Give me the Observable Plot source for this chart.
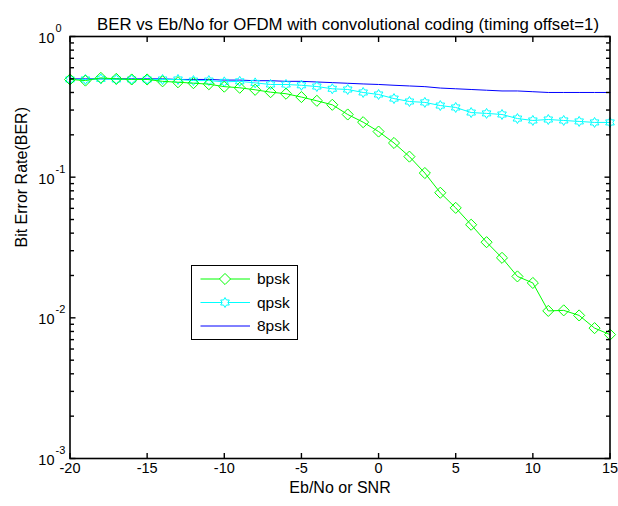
<!DOCTYPE html>
<html>
<head>
<meta charset="utf-8">
<script src="https://cdn.jsdelivr.net/npm/d3@7"></script>
<script src="https://cdn.jsdelivr.net/npm/@observablehq/plot@0.6"></script>
<style>
  html, body { margin: 0; padding: 0; background: #fff; }
  #wrap { position: relative; width: 618px; height: 506px; font-family: "Liberation Sans", Arial, sans-serif; }
  #legend { position: absolute; left: 191px; top: 265px; }
</style>
</head>
<body>
<div id="wrap"></div>
<script>
const titleText = "BER vs Eb/No for OFDM with convolutional coding (timing offset=1)";
const xLabel = "Eb/No or SNR";
const yLabel = "Bit Error Rate(BER)";

const snr = [-20,-19,-18,-17,-16,-15,-14,-13,-12,-11,-10,-9,-8,-7,-6,-5,-4,-3,-2,-1,0,1,2,3,4,5,6,7,8,9,10,11,12,13,14,15];
const bpsk = [0.495,0.486,0.508,0.50,0.495,0.495,0.48,0.473,0.466,0.458,0.44,0.432,0.418,0.402,0.392,0.371,0.349,0.327,0.279,0.246,0.211,0.175,0.140,0.107,0.0775,0.0605,0.0459,0.0345,0.0267,0.0197,0.0177,0.0112,0.0113,0.0104,0.00845,0.0076];
const qpsk = [0.495,0.495,0.50,0.495,0.495,0.495,0.495,0.495,0.486,0.486,0.476,0.48,0.468,0.456,0.456,0.45,0.441,0.425,0.42,0.40,0.387,0.362,0.345,0.340,0.323,0.313,0.288,0.284,0.279,0.261,0.253,0.257,0.253,0.249,0.245,0.245];
const psk8 = [0.50,0.50,0.50,0.50,0.50,0.50,0.50,0.495,0.495,0.495,0.49,0.49,0.485,0.485,0.48,0.48,0.475,0.47,0.465,0.46,0.456,0.45,0.445,0.44,0.43,0.425,0.42,0.415,0.41,0.41,0.405,0.40,0.40,0.40,0.40,0.40];

const seriesNames = ["bpsk", "qpsk", "8psk"];
const seriesColors = ["#00ff00", "#00ffff", "#0000ff"];

const xDomain = [-20, 15];
const yDomain = [0.001, 1];
const xTicks = [-20,-15,-10,-5,0,5,10,15];
const xTickLabels = ["-20","-15","-10","-5","0","5","10","15"];
const yMajor = [0.001, 0.01, 0.1, 1];
const yExponents = ["-3","-2","-1","0"];
const yMinor = yMajor.slice(0, 3).flatMap(d => [2,3,4,5,6,7,8,9].map(m => m * d));

const rows = snr.map((x, i) => ({x, bpsk: bpsk[i], qpsk: qpsk[i], psk8: psk8[i]}));

const hexagram = {
  draw(ctx, size) {
    const R = Math.sqrt(size / Math.PI);
    const r = R / Math.sqrt(3);
    for (let i = 0; i < 12; i++) {
      const a = i * Math.PI / 6 - Math.PI / 2;
      const rr = i % 2 ? r : R;
      const px = rr * Math.cos(a), py = rr * Math.sin(a);
      if (i) ctx.lineTo(px, py); else ctx.moveTo(px, py);
    }
    ctx.closePath();
  }
};

const W = 618, H = 506, ML = 69.5, MR = 8.5, MT = 36, MB = 48;
const FW = W - ML - MR, FH = H - MT - MB;
const MAJ = 5.5, MIN = 4;
const TICK_FS = 14.5, LABEL_FS = 16, TITLE_FS = 16.8, LEG_FS = 15.5;
const FONT = "'Liberation Sans', Arial, sans-serif";

// tick lengths expressed in data units of each scale
const xPerPx = (xDomain[1] - xDomain[0]) / FW;
const decPerPx = Math.log10(yDomain[1] / yDomain[0]) / FH;
const xIn = px => px * xPerPx;
const yUp = (v, px) => v * Math.pow(10, px * decPerPx);
const tk = {stroke: "#000", strokeWidth: 1.4};

const chart = Plot.plot({
  width: W,
  height: H,
  marginLeft: ML,
  marginRight: MR,
  marginTop: MT,
  marginBottom: MB,
  style: {fontFamily: FONT, fontSize: TICK_FS + "px", background: "#fff"},
  x: {domain: xDomain, axis: null},
  y: {type: "log", domain: yDomain, axis: null},
  marks: [
    Plot.line(rows, {x: "x", y: "psk8", stroke: seriesColors[2], strokeWidth: 1}),
    Plot.line(rows, {x: "x", y: "qpsk", stroke: seriesColors[1], strokeWidth: 1}),
    Plot.dot(rows, {x: "x", y: "qpsk", stroke: seriesColors[1], symbol: hexagram, r: 5, strokeWidth: 1}),
    Plot.line(rows, {x: "x", y: "bpsk", stroke: seriesColors[0], strokeWidth: 1}),
    Plot.dot(rows, {x: "x", y: "bpsk", stroke: seriesColors[0], symbol: "diamond2", r: 5, strokeWidth: 1}),
    Plot.frame({stroke: "#000", strokeWidth: 1.6}),
    // inward ticks (MATLAB box style)
    Plot.link(xTicks, {x1: d => d, x2: d => d, y1: () => yDomain[0], y2: () => yUp(yDomain[0], MAJ), ...tk}),
    Plot.link(xTicks, {x1: d => d, x2: d => d, y1: () => yDomain[1], y2: () => yUp(yDomain[1], -MAJ), ...tk}),
    Plot.link(yMajor, {y1: d => d, y2: d => d, x1: () => xDomain[0], x2: () => xDomain[0] + xIn(MAJ), ...tk}),
    Plot.link(yMajor, {y1: d => d, y2: d => d, x1: () => xDomain[1], x2: () => xDomain[1] - xIn(MAJ), ...tk}),
    Plot.link(yMinor, {y1: d => d, y2: d => d, x1: () => xDomain[0], x2: () => xDomain[0] + xIn(MIN), ...tk}),
    Plot.link(yMinor, {y1: d => d, y2: d => d, x1: () => xDomain[1], x2: () => xDomain[1] - xIn(MIN), ...tk}),
    // tick labels
    Plot.text(xTicks, {x: d => d, frameAnchor: "bottom", dy: 14, text: (d, i) => xTickLabels[i], fontSize: TICK_FS, fill: "#000"}),
    Plot.text(yMajor, {y: d => d, frameAnchor: "left", dx: -15.5, dy: 2, textAnchor: "end", text: () => "10", fontSize: TICK_FS, fill: "#000"}),
    Plot.text(yMajor, {y: d => d, frameAnchor: "left", dx: -14.5, dy: -8, textAnchor: "start", text: (d, i) => yExponents[i], fontSize: 11, fill: "#000"}),
    // titles
    Plot.text([titleText], {frameAnchor: "top", dx: 8, dy: -18.5, text: d => d, fontSize: TITLE_FS, fill: "#000"}),
    Plot.text([xLabel], {frameAnchor: "bottom", dy: 34, text: d => d, fontSize: LABEL_FS, fill: "#000"}),
    Plot.text([yLabel], {frameAnchor: "left", dx: -48, rotate: -90, text: d => d, fontSize: LABEL_FS, fill: "#000"})
  ]
});

const wrap = document.getElementById("wrap");
wrap.appendChild(chart);

// Legend box (MATLAB-style, inside the axes)
const lw = 106, lh = 74;
const leg = d3.select(wrap).append("svg")
  .attr("id", "legend")
  .attr("width", lw + 2).attr("height", lh + 2)
  .style("font-family", FONT);
leg.append("rect").attr("x", 0.5).attr("y", 0.5).attr("width", lw).attr("height", lh)
  .attr("fill", "#fff").attr("stroke", "#000").attr("stroke-width", 1);
const symbols = [d3.symbolDiamond2, hexagram, null];
seriesNames.forEach((name, i) => {
  const cy = 14 + i * 23.5;
  const g = leg.append("g");
  g.append("line").attr("x1", 9.5).attr("x2", 59).attr("y1", cy).attr("y2", cy)
    .attr("stroke", seriesColors[i]).attr("stroke-width", 1);
  if (symbols[i]) {
    g.append("path").attr("transform", `translate(34,${cy})`)
      .attr("d", d3.symbol(symbols[i], Math.PI * 25)())
      .attr("fill", "#fff").attr("stroke", seriesColors[i]).attr("stroke-width", 1);
  }
  g.append("text").attr("x", 66).attr("y", cy).attr("dy", "0.35em")
    .attr("font-size", LEG_FS).attr("fill", "#000").text(name);
});
</script>
</body>
</html>
